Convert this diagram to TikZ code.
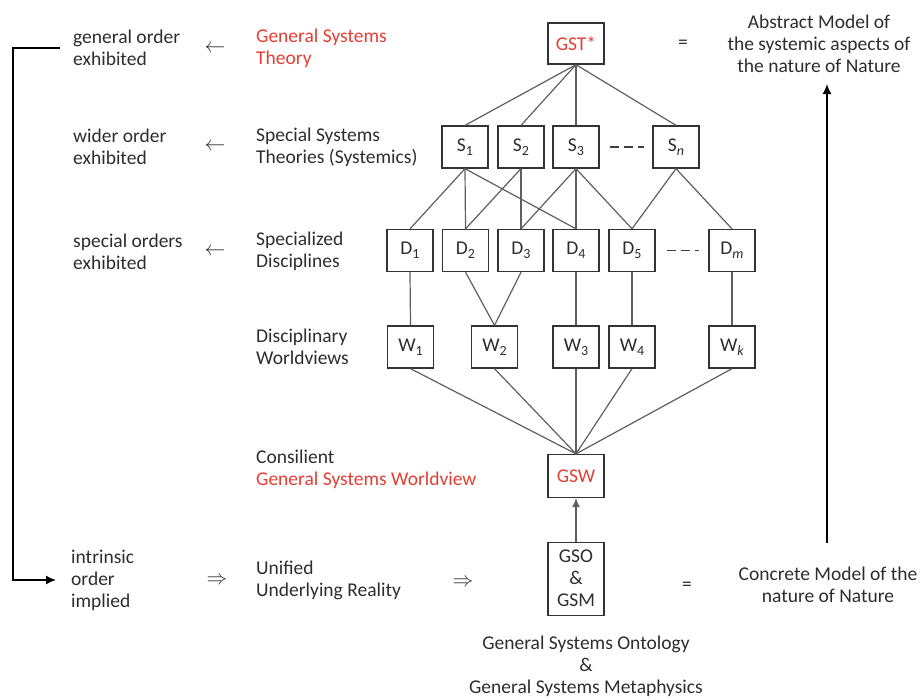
\documentclass[tikz,border=0pt]{standalone}
\usepackage{fontspec}
\setmainfont{Carlito}
\usetikzlibrary{arrows.meta}
\definecolor{txt}{RGB}{45,45,45}
\definecolor{redt}{RGB}{228,62,52}
\definecolor{ln}{RGB}{95,95,95}
\newcommand\sbs[1]{\raisebox{-0.45ex}{\fontsize{14}{14}\selectfont #1}}
\begin{document}
\begin{tikzpicture}[x=1pt,y=-1pt, font=\fontsize{19.5}{22}\selectfont, text=txt,
 box/.style={draw=black!80, line width=1.3pt, minimum width=46pt, minimum height=42pt, inner sep=0pt},
 conn/.style={draw=ln, line width=1.2pt},
 lbl/.style={anchor=west, align=left, inner sep=0pt},
 ctr/.style={align=center, inner sep=0pt},
 bigarrow/.style={draw=black, line width=1.5pt, -{Latex[length=10pt,width=9pt]}}]
\useasboundingbox (0,0) rectangle (922,697);
% boxes
\node[box, minimum width=56pt, minimum height=41pt, text=redt] (gst) at (576,43.5) {GST*};
\node[box] (s1) at (465,147) {S\sbs{1}};
\node[box] (s2) at (521,147) {S\sbs{2}};
\node[box] (s3) at (576,147) {S\sbs{3}};
\node[box] (sn) at (676,147) {S\sbs{\itshape n}};
\node[box] (d1) at (410,250.5) {D\sbs{1}};
\node[box] (d2) at (465.5,250.5) {D\sbs{2}};
\node[box] (d3) at (521,250.5) {D\sbs{3}};
\node[box] (d4) at (576,250.5) {D\sbs{4}};
\node[box] (d5) at (632,250.5) {D\sbs{5}};
\node[box] (dm) at (732,250.5) {D\sbs{\itshape m}};
\node[box] (w1) at (410.5,347) {W\sbs{1}};
\node[box] (w2) at (494.5,347) {W\sbs{2}};
\node[box] (w3) at (576,347) {W\sbs{3}};
\node[box] (w4) at (632,347) {W\sbs{4}};
\node[box] (wk) at (732,347) {W\sbs{\itshape k}};
\node[box, minimum width=56pt, minimum height=43pt, text=redt] (gsw) at (576,476) {GSW};
\node[box, minimum width=56pt, minimum height=73pt, align=center, font=\fontsize{19.5}{22}\selectfont] (gso) at (576,578.7) {GSO\\\&\\GSM};
% connectors
\foreach \s in {s1,s2,s3,sn} \draw[conn] (gst.south) -- (\s.north);
\draw[conn] (s1.south) -- (d1.north);
\draw[conn] (s1.south) -- (d2.north);
\draw[conn] (s1.south) -- (d4.north);
\draw[conn] (s2.south) -- (d2.north);
\draw[conn] (s2.south) -- (d3.north);
\draw[conn] (s3.south) -- (d3.north);
\draw[conn] (s3.south) -- (d4.north);
\draw[conn] (s3.south) -- (d5.north);
\draw[conn] (sn.south) -- (d5.north);
\draw[conn] (sn.south) -- (dm.north);
\draw[conn] (d1.south) -- (w1.north);
\draw[conn] (d2.south) -- (w2.north);
\draw[conn] (d3.south) -- (w2.north);
\draw[conn] (d4.south) -- (w3.north);
\draw[conn] (d5.south) -- (w4.north);
\draw[conn] (dm.south) -- (wk.north);
\foreach \w in {w1,w2,w3,w4,wk} \draw[conn] (\w.south) -- (gsw.north);
\draw[conn, -{Latex[length=9pt,width=8pt]}] (gso.north) -- (gsw.south);
\draw[conn, draw=black!75, dash pattern=on 9pt off 5pt] ([xshift=10pt]s3.east) -- ([xshift=-8pt]sn.west);
\draw[conn, draw=black!75, dash pattern=on 9pt off 5pt] ([xshift=11pt]d5.east) -- ([xshift=-9pt]dm.west);
% left labels
\node[lbl] (go) at (73,48) {general order\\exhibited};
\node[lbl] (wo) at (73,147) {wider order\\exhibited};
\node[lbl] (so) at (73,252) {special orders\\exhibited};
\node[lbl] (io) at (71,580) {intrinsic\\order\\implied};
\node[ctr] (a1) at (215,49) {$\leftarrow$};
\node[ctr] (a2) at (215,147) {$\leftarrow$};
\node[ctr] (a3) at (215,252) {$\leftarrow$};
\node[ctr] (a4) at (217,581) {$\Rightarrow$};
\node[ctr] (a5) at (463,583) {$\Rightarrow$};
% middle labels
\node[lbl, text=redt] (tgst) at (256,48) {General Systems\\Theory};
\node[lbl] (tsst) at (256,147) {Special Systems\\Theories (Systemics)};
\node[lbl] (tsd) at (256,251) {Specialized\\Disciplines};
\node[lbl] (tdw) at (256,347) {Disciplinary\\Worldviews};
\node[lbl] (tcon) at (256,469) {Consilient\\{\color{redt}General Systems Worldview}};
\node[lbl] (tuni) at (256,580) {Unified\\Underlying Reality};
% right labels
\node[ctr] (eq1) at (683,44) {=};
\node[ctr] (abs) at (819,44) {Abstract Model of\\the systemic aspects of\\the nature of Nature};
\node[ctr] (eq2) at (687,586) {=};
\node[ctr] (con) at (828,585) {Concrete Model of the\\nature of Nature};
\node[ctr] (gsom) at (586,666) {General Systems Ontology\\\&\\General Systems Metaphysics};
% big arrows
\coordinate (bkA) at (60,48);
\coordinate (bkB) at (13,48);
\coordinate (bkC) at (56,580);
\draw[bigarrow] (bkA) -- (bkB) |- (bkC);
\coordinate (raA) at (827,543);
\coordinate (raB) at (827,84);
\draw[bigarrow] (raA) -- (raB);
\end{tikzpicture}
\end{document}
